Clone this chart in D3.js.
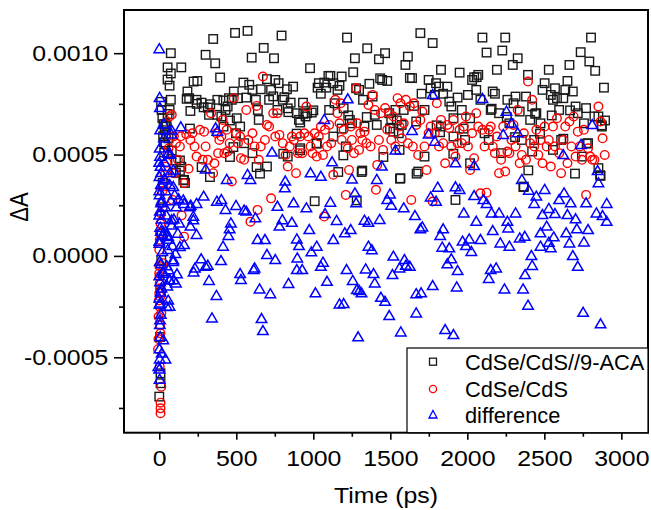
<!DOCTYPE html>
<html><head><meta charset="utf-8">
<script src="https://cdn.jsdelivr.net/npm/d3@7"></script>
<style>body{margin:0;background:#fff}svg{display:block}text{font-family:"Liberation Sans",Arial,sans-serif}</style>
</head><body><svg id="c" width="651" height="510"></svg>
<script>
const xMajorTicks = [0,500,1000,1500,2000,2500,3000];
const xMinorTicks = [250,750,1250,1750,2250,2750];
const yMajorTicks = [-0.0005,0,0.0005,0.001];
const yMinorTicks = [-0.00075,-0.00025,0.00025,0.00075];
const yTickLabels = ["-0.0005","0.0000","0.0005","0.0010"];
const seriesNames = ["CdSe/CdS//9-ACA","CdSe/CdS","difference"];
const xTitle = "Time (ps)";
const yTitle = "ΔA";

// [time (ps), ΔA]
const acaData = [
[0,-6.94e-4],[8,-6.28e-4],[8,-5.79e-4],[5,-4.0e-4],[13,-0.2e-4],[22,3.6e-4],[40,5.5e-4],[48,6.4e-4],[54,8.7e-4],[54,9.3e-4],
[75,9.0e-4],[67,8.4e-4],[75,10.0e-4],[143,9.3e-4],[75,7.7e-4],[67,7.2e-4],[54,7.0e-4],[40,6.5e-4],[81,5.2e-4],[108,4.7e-4],
[108,4.1e-4],[134,4.2e-4],[161,3.75e-4],[167,3.6e-4],[143,4.4e-4],[32,5.1e-4],[16,1.1e-4],[11,-1.8e-4],[22,2.4e-4],
[20,6.8e-4],[28,6.5e-4],[35,6.2e-4],[25,5.9e-4],[45,6.0e-4],[30,5.6e-4],[60,5.8e-4],[15,7.2e-4],[12,7.6e-4],
[183,8.11e-4],[194,7.78e-4],[202,7.15e-4],[223,8.6e-4],[247,8.63e-4],[242,7.7e-4],[274,7.56e-4],[288,7.33e-4],[301,9.92e-4],[315,7.32e-4],
[323,6.96e-4],[350,10.7e-4],[331,7.48e-4],[363,9.5e-4],[377,7.7e-4],[395,8.8e-4],[377,6.96e-4],[403,6.88e-4],[417,6.38e-4],[430,7.2e-4],
[444,7.37e-4],[452,7.78e-4],[471,7.7e-4],[484,8.11e-4],[492,11.0e-4],[498,6.05e-4],[503,6.79e-4],[511,7.78e-4],[525,6.38e-4],[546,8.55e-4],
[551,5.56e-4],[565,7.81e-4],[573,11.1e-4],[584,8.44e-4],[600,9.78e-4],[605,8.19e-4],[627,7.7e-4],[640,7.2e-4],[646,6.71e-4],[659,8.22e-4],
[678,10.26e-4],[699,8.72e-4],[713,7.7e-4],[726,8.19e-4],[740,7.87e-4],[745,9.75e-4],[753,8.68e-4],[767,7.2e-4],[775,8.52e-4],[794,10.87e-4],
[802,7.7e-4],[812,7.83e-4],[829,8.22e-4],[834,7.28e-4],[853,7.56e-4],[869,8.35e-4],[893,7.04e-4],[907,6.71e-4],[915,6.58e-4],[933,7.56e-4],
[950,6.88e-4],[960,7.04e-4],[979,9.26e-4],[990,7.07e-4],[1009,2.7e-4],[1028,8.3e-4],[1036,8.52e-4],[1049,8.0e-4],[1071,8.55e-4],[1084,8.3e-4],
[1098,8.88e-4],[1103,7.2e-4],[1111,8.88e-4],[1130,8.52e-4],[1138,7.53e-4],[1157,8.19e-4],[1170,8.39e-4],[1184,8.85e-4],[1197,7.28e-4],[1219,10.77e-4],
[1237,6.71e-4],[1251,6.54e-4],[1259,9.06e-4],[1270,9.75e-4],[1278,8.27e-4],[1297,8.19e-4],[1323,7.7e-4],[1332,6.38e-4],[1350,10.24e-4],[1364,8.49e-4],
[1385,7.86e-4],[1399,6.96e-4],[1412,6.46e-4],[1426,9.7e-4],[1434,8.76e-4],[1447,8.68e-4],[1466,10.0e-4],[1480,8.63e-4],[1493,7.04e-4],[1506,6.74e-4],
[1520,6.13e-4],[1533,7.2e-4],[1555,6.05e-4],[1566,3.83e-4],[1574,6.46e-4],[1587,7.2e-4],[1598,9.42e-4],[1614,9.83e-4],[1627,8.78e-4],[1641,8.77e-4],
[1654,7.4e-4],[1668,6.63e-4],[1681,4.16e-4],[1695,10.99e-4],[1703,8.0e-4],[1722,7.2e-4],[1749,8.68e-4],[1762,8.27e-4],[1775,10.5e-4],[1789,7.94e-4],
[1797,8.52e-4],[1816,8.35e-4],[1829,9.18e-4],[1843,8.0e-4],[1870,8.35e-4],[1883,7.61e-4],[1896,7.37e-4],[1910,6.79e-4],[1923,2.76e-4],[1937,7.81e-4],
[1950,9.04e-4],[1964,7.2e-4],[1985,5.72e-4],[2004,7.94e-4],[2018,6.79e-4],[2031,8.68e-4],[2044,8.81e-4],[2058,8.19e-4],[2071,8.93e-4],[2085,7.7e-4],
[2098,10.77e-4],[2112,6.05e-4],[2125,10.03e-4],[2139,5.72e-4],[2152,7.2e-4],[2165,8.11e-4],[2179,8.0e-4],[2192,9.18e-4],[2206,7.04e-4],[2227,10.13e-4],
[2246,10.77e-4],[2260,7.7e-4],[2273,6.54e-4],[2295,9.42e-4],[2300,7.53e-4],[2313,7.86e-4],[2327,9.75e-4],[2340,7.12e-4],[2354,5.72e-4],[2367,3.42e-4],
[2381,7.86e-4],[2394,8.93e-4],[2408,6.71e-4],[2421,7.37e-4],[2434,5.72e-4],[2448,7.04e-4],[2475,6.54e-4],[2488,8.19e-4],[2502,8.52e-4],[2529,9.18e-4],
[2542,7.94e-4],[2556,7.7e-4],[2569,8.27e-4],[2582,7.78e-4],[2596,7.2e-4],[2609,5.72e-4],[2623,7.78e-4],[2636,8.19e-4],[2650,8.63e-4],[2663,9.42e-4],
[2685,8.11e-4],[2703,7.37e-4],[2717,7.04e-4],[2736,10.05e-4],[2757,6.54e-4],[2771,7.29e-4],[2784,5.56e-4],[2792,9.59e-4],[2803,10.77e-4],[2825,6.88e-4],
[2830,9.13e-4],[2851,6.88e-4],[2865,3.95e-4],[2887,8.3e-4],[2894,6.68e-4],[2873,6.38e-4],
[605,5.07e-4],[699,4.41e-4],[834,4.9e-4],[915,5.31e-4],[1022,5.56e-4],[1318,4.21e-4],[1722,4.9e-4],[2018,4.57e-4],[2219,5.07e-4],[2421,5.15e-4],
[2556,5.23e-4],[2744,4.9e-4],[2851,4.33e-4],[1910,5.89e-4],[1829,6.38e-4],[1560,5.23e-4],[1130,5.89e-4],[1211,5.4e-4],
[935,7.01e-4],[1000,7.18e-4],[1022,5.54e-4],[1195,4.96e-4],[1162,4.14e-4],[1314,4.14e-4],[1455,4.88e-4],[1563,3.81e-4],[1671,4.06e-4],[1909,5.04e-4],
[1974,6.28e-4],[1801,6.44e-4],[1282,2.74e-4],[1227,6.93e-4],[1347,6.85e-4],[1542,6.68e-4],[1498,6.28e-4],[1823,6.1e-4],[1184,6.28e-4],
[134,4.71e-4],[156,3.73e-4],[329,3.89e-4],[275,4.38e-4],[459,4.88e-4],[481,5.37e-4],[632,4.38e-4],[654,4.06e-4],[805,5.04e-4],[914,5.21e-4],
[892,6.03e-4],[838,7.09e-4],[199,6.28e-4],[243,7.5e-4],[178,7.75e-4],[459,6.68e-4],[416,7.67e-4],
[2158,7.26e-4],[2440,7.01e-4],[2472,6.03e-4],[2623,5.78e-4],[2667,7.18e-4],[2699,4.06e-4],[2775,5.54e-4],[2862,3.98e-4],[2364,3.4e-4],[2873,6.44e-4],
[2548,6.93e-4],[2256,6.85e-4],[2061,8.82e-4],[2310,5.86e-4],[2396,4.22e-4]
];

const cdsData = [
[8,-7.76e-4],[8,-7.52e-4],[8,-7.24e-4],[13,-6.45e-4],[8,-3.82e-4],[13,-2.83e-4],[22,-0.36e-4],[3,-5.46e-4],[0,-1.84e-4],[0,-0.86e-4],
[5,1.12e-4],[11,2.1e-4],[27,3.42e-4],[40,4.41e-4],[54,5.07e-4],[67,6.88e-4],[81,6.96e-4],[108,5.56e-4],[134,5.4e-4],[161,3.59e-4],
[161,0.95e-4],[86,2.76e-4],[121,4.74e-4],[102,4.08e-4],[-5,-3.0e-4],[-3,-2.2e-4],[-8,-4.6e-4],[-5,-4.1e-4],[3,-1.35e-4],[0,0.3e-4],
[2,-1.0e-4],[4,-1.6e-4],[2,-2.5e-4],[5,-3.4e-4],[1,-0.5e-4],[6,-2.0e-4],[3,0.8e-4],[8,1.6e-4],[15,2.6e-4],[20,3.2e-4],
[35,4.0e-4],[48,4.6e-4],[60,5.3e-4],[95,5.9e-4],[140,5.9e-4],[175,6.0e-4],[190,4.3e-4],[145,2.0e-4],
[202,5.72e-4],[215,6.05e-4],[229,5.4e-4],[242,4.9e-4],[264,6.22e-4],[282,4.74e-4],[291,6.13e-4],[301,5.4e-4],[315,4.74e-4],[336,7.04e-4],
[350,4.08e-4],[358,4.57e-4],[371,6.05e-4],[382,5.07e-4],[390,5.72e-4],[403,5.89e-4],[412,6.71e-4],[422,5.07e-4],[438,6.22e-4],[444,5.15e-4],
[457,5.56e-4],[471,3.67e-4],[484,7.78e-4],[498,6.05e-4],[511,5.56e-4],[525,5.89e-4],[530,4.82e-4],[551,4.74e-4],[565,7.2e-4],[578,5.72e-4],
[592,1.69e-4],[605,6.05e-4],[619,5.4e-4],[632,7.4e-4],[638,2.27e-4],[646,4.74e-4],[659,5.4e-4],[673,8.85e-4],[686,5.72e-4],[699,6.46e-4],
[713,6.38e-4],[726,2.84e-4],[740,7.04e-4],[753,5.89e-4],[767,7.04e-4],[780,5.97e-4],[802,5.56e-4],[820,4.98e-4],[834,4.41e-4],[847,5.4e-4],
[861,5.89e-4],[874,5.72e-4],[888,4.08e-4],[901,5.07e-4],[915,5.89e-4],[928,5.07e-4],[942,6.05e-4],[955,7.37e-4],[968,5.89e-4],[982,5.4e-4],
[995,5.07e-4],[1009,6.05e-4],[1022,4.9e-4],[1036,5.89e-4],[1049,6.38e-4],[1063,4.98e-4],[1071,1.94e-4],[1076,6.22e-4],[1089,5.4e-4],[1103,6.46e-4],
[1116,5.56e-4],[1130,4.0e-4],[1143,7.7e-4],[1157,7.04e-4],[1170,6.54e-4],[1178,7.53e-4],[1184,5.72e-4],[1197,6.22e-4],[1211,3.01e-4],[1224,5.31e-4],
[1232,4.24e-4],[1243,6.38e-4],[1251,5.72e-4],[1264,5.07e-4],[1278,8.27e-4],[1286,6.54e-4],[1297,5.23e-4],[1305,6.05e-4],[1318,5.72e-4],[1332,6.13e-4],
[1345,5.56e-4],[1358,7.45e-4],[1372,5.4e-4],[1385,7.94e-4],[1399,7.2e-4],[1407,3.26e-4],[1415,4.49e-4],[1426,5.72e-4],[1439,7.04e-4],[1453,5.23e-4],
[1466,7.29e-4],[1480,6.22e-4],[1493,7.04e-4],[1506,5.72e-4],[1520,6.88e-4],[1533,5.4e-4],[1547,7.78e-4],[1560,6.38e-4],[1566,7.53e-4],[1574,5.8e-4],
[1587,6.54e-4],[1601,7.7e-4],[1614,5.56e-4],[1627,7.37e-4],[1636,2.76e-4],[1646,5.4e-4],[1654,7.53e-4],[1668,6.46e-4],[1681,4.98e-4],[1695,6.71e-4],
[1708,7.12e-4],[1722,5.4e-4],[1735,4.24e-4],[1749,6.05e-4],[1762,6.38e-4],[1775,2.68e-4],[1789,6.05e-4],[1802,7.53e-4],[1816,5.4e-4],[1829,6.71e-4],
[1843,5.56e-4],[1856,4.57e-4],[1870,6.46e-4],[1883,6.3e-4],[1896,5.4e-4],[1910,6.71e-4],[1923,4.9e-4],[1937,5.56e-4],[1950,6.22e-4],[1964,5.56e-4],
[1977,6.38e-4],[1991,6.88e-4],[2004,5.4e-4],[2018,4.24e-4],[2031,6.05e-4],[2044,4.82e-4],[2058,7.04e-4],[2071,6.38e-4],[2085,3.09e-4],[2098,6.22e-4],
[2112,5.4e-4],[2125,3.12e-4],[2139,6.22e-4],[2152,6.38e-4],[2165,5.4e-4],[2179,5.07e-4],[2192,5.89e-4],[2206,4.08e-4],[2219,4.74e-4],[2233,6.38e-4],
[2246,4.16e-4],[2260,5.15e-4],[2273,5.07e-4],[2287,5.72e-4],[2300,6.46e-4],[2313,5.4e-4],[2327,7.2e-4],[2340,4.57e-4],[2354,4.98e-4],[2367,6.05e-4],
[2381,4.74e-4],[2394,8.6e-4],[2408,5.56e-4],[2421,7.7e-4],[2434,5.4e-4],[2448,6.22e-4],[2461,4.98e-4],[2475,5.72e-4],[2488,4.57e-4],[2502,6.38e-4],
[2515,5.4e-4],[2529,5.72e-4],[2542,4.41e-4],[2556,6.38e-4],[2569,5.4e-4],[2582,6.79e-4],[2596,5.07e-4],[2609,4.08e-4],[2623,5.72e-4],[2636,6.38e-4],
[2650,4.57e-4],[2663,6.63e-4],[2676,5.4e-4],[2690,6.88e-4],[2703,4.9e-4],[2717,6.13e-4],[2730,5.4e-4],[2744,4.74e-4],[2757,6.22e-4],[2771,3.01e-4],
[2784,5.31e-4],[2798,4.9e-4],[2811,4.74e-4],[2825,4.74e-4],[2851,7.37e-4],[2865,6.63e-4],[2878,5.8e-4],[2892,4.98e-4]
];

const diffData = [
[0,10.2e-4],[2,7.8e-4],[4,7.3e-4],[6,6.2e-4],[3,5.3e-4],[5,4.9e-4],[8,4.4e-4],[1,3.9e-4],[10,3.5e-4],[2,3.0e-4],
[12,2.6e-4],[4,2.2e-4],[15,1.8e-4],[6,1.4e-4],[18,1.0e-4],[1,0.6e-4],[20,0.2e-4],[3,-0.3e-4],[25,-0.8e-4],[5,-1.3e-4],
[8,-1.8e-4],[2,-2.4e-4],[10,-2.9e-4],[4,-3.4e-4],[6,-4.0e-4],[1,-4.6e-4],[3,-5.1e-4],[0,-5.6e-4],[2,-6.1e-4],[30,5.8e-4],
[35,4.6e-4],[40,3.2e-4],[45,2.0e-4],[50,1.0e-4],[55,0.3e-4],[60,-0.7e-4],[65,-1.2e-4],[70,4.1e-4],[75,2.7e-4],[80,1.5e-4],
[85,0.5e-4],[90,-0.3e-4],[28,6.5e-4],[33,3.8e-4],[38,2.4e-4],[42,1.2e-4],[48,-0.5e-4],[52,-1.5e-4],[58,-2.2e-4],[62,0.8e-4],
[68,3.5e-4],[72,5.0e-4],[78,6.0e-4],[95,1.8e-4],[100,3.0e-4],[105,0.1e-4],[110,2.4e-4],[115,-0.9e-4],[120,1.1e-4],[125,2.8e-4],
[130,1.6e-4],[67,-2.5e-4],[40,-5.1e-4],[94,-1.2e-4],[108,-1.35e-4],
[80,6.19e-4],[58,5.04e-4],[91,4.22e-4],[37,3.73e-4],[91,3.4e-4],[156,2.74e-4],[199,2.41e-4],[221,1.76e-4],[80,1.76e-4],[58,0.94e-4],
[134,0.44e-4],[91,-0.21e-4],[26,-0.87e-4],[69,-1.2e-4],[5,-2.34e-4],[48,-2.51e-4],[5,-3.17e-4],[26,-4.15e-4],[-6,-5.47e-4],[16,-4.81e-4],
[232,-0.62e-4],[0,4.6e-4],[12,4.1e-4],[0,3.2e-4],[14,2.7e-4],[0,2.0e-4],[10,1.2e-4],[0,0.7e-4],[12,-0.4e-4],[0,-1.0e-4],[14,-1.6e-4],[0,-2.1e-4],
[140,6.35e-4],[161,2.57e-4],[204,2.48e-4],[242,2.57e-4],[288,2.93e-4],[202,1.45e-4],[221,1.94e-4],[161,0.54e-4],[242,1.04e-4],[223,-0.81e-4],
[272,-0.16e-4],[301,-0.53e-4],[315,-0.48e-4],[323,-1.23e-4],[342,-3.08e-4],[371,-1.97e-4],[401,-0.25e-4],[414,0.46e-4],[430,2.27e-4],[449,0.99e-4],
[457,1.32e-4],[465,1.61e-4],[438,3.75e-4],[374,2.68e-4],[403,2.76e-4],[377,6.13e-4],[366,6.3e-4],[301,4.27e-4],[525,-0.89e-4],[530,-1.18e-4],
[498,2.47e-4],[551,2.24e-4],[565,2.19e-4],[592,3.75e-4],[573,4.0e-4],[613,-0.69e-4],[619,-0.61e-4],[624,1.86e-4],[638,0.79e-4],[686,0.79e-4],
[651,-1.65e-4],[664,-3.11e-4],[673,-3.70e-4],[699,0.05e-4],[721,-1.88e-4],[732,5.1e-4],[753,-0.2e-4],[767,2.43e-4],[818,3.67e-4],[780,1.45e-4],
[799,1.77e-4],[815,3.34e-4],[839,-1.38e-4],[861,1.64e-4],[872,2.6e-4],[893,0.82e-4],[896,-0.12e-4],[907,0.49e-4],[893,-0.69e-4],[928,-0.69e-4],
[955,2.35e-4],[974,1.28e-4],[982,4.08e-4],[987,0.18e-4],[1014,-1.84e-4],[1022,0.46e-4],[1049,-0.53e-4],[1063,-0.33e-4],[1076,2.07e-4],[1089,-1.27e-4],
[1071,6.71e-4],[1049,3.91e-4],[1111,2.63e-4],[1122,4.62e-4],[1130,0.79e-4],[1151,1.73e-4],[1170,-2.39e-4],[1197,-2.37e-4],[1205,1.12e-4],[1216,-0.69e-4],
[1224,7.73e-4],[1243,1.28e-4],[1256,-1.23e-4],[1251,3.78e-4],[1270,3.09e-4],[1278,2.6e-4],[1283,-1.68e-4],[1291,-4.01e-4],[1299,-1.73e-4],[1313,-1.84e-4],
[1332,1.74e-4],[1340,-0.66e-4],[1358,1.64e-4],[1358,0.46e-4],[1380,0.29e-4],[1391,-0.89e-4],[1399,-1.35e-4],[1412,3.75e-4],[1431,1.78e-4],[1439,-2.06e-4],
[1445,4.41e-4],[1466,-2.26e-4],[1480,2.76e-4],[1498,3.04e-4],[1506,2.48e-4],[1514,-0.94e-4],[1493,-2.96e-4],[1520,-0.03e-4],[1533,5.2e-4],[1560,-0.61e-4],
[1568,-3.77e-4],[1587,2.35e-4],[1592,-0.2e-4],[1601,-0.48e-4],[1627,-0.53e-4],[1641,6.17e-4],[1660,1.97e-4],[1668,-1.88e-4],[1668,-2.83e-4],[1695,1.32e-4],
[1708,1.41e-4],[1700,-1.84e-4],[1749,6.0e-4],[1775,7.94e-4],[1762,2.89e-4],[1775,-1.48e-4],[1789,5.64e-4],[1797,2.68e-4],[1808,3.37e-4],[1824,0.99e-4],
[1837,0.41e-4],[1843,1.32e-4],[1856,-3.65e-4],[1870,-0.41e-4],[1883,0.38e-4],[1896,-0.16e-4],[1910,-3.9e-4],[1923,4.57e-4],[1923,3.39e-4],[1937,-0.74e-4],
[1931,-1.55e-4],[1950,3.26e-4],[1977,2.1e-4],[1969,0.71e-4],[1991,0.49e-4],[2012,0.82e-4],[2026,0.2e-4],[2044,4.44e-4],[2044,2.96e-4],[2058,1.69e-4],
[2085,0.79e-4],[2098,7.75e-4],[2104,2.76e-4],[2125,2.57e-4],[2139,-1.13e-4],[2152,-0.69e-4],[2157,2.1e-4],[2165,1.23e-4],[2187,-0.61e-4],[2206,2.1e-4],
[2214,0.62e-4],[2233,5.97e-4],[2241,-1.65e-4],[2254,7.12e-4],[2260,1.69e-4],[2265,1.36e-4],[2273,0.46e-4],[2287,6.54e-4],[2313,2.1e-4],[2327,6.05e-4],
[2340,0.87e-4],[2354,3.75e-4],[2362,-1.65e-4],[2373,0.95e-4],[2375,-0.94e-4],[2394,-2.45e-4],[2399,3.22e-4],[2416,0.0e-4],[2421,-0.49e-4],[2434,2.57e-4],
[2448,2.93e-4],[2475,1.12e-4],[2475,0.46e-4],[2488,2.02e-4],[2502,3.26e-4],[2515,1.45e-4],[2529,0.66e-4],[2529,2.32e-4],[2542,0.38e-4],[2561,0.92e-4],
[2569,2.07e-4],[2596,2.76e-4],[2623,4.98e-4],[2628,3.09e-4],[2642,1.12e-4],[2650,2.02e-4],[2663,0.62e-4],[2671,2.6e-4],[2685,0.0e-4],[2703,1.81e-4],
[2711,1.32e-4],[2717,-0.53e-4],[2738,5.48e-4],[2752,-2.8e-4],[2757,0.67e-4],[2771,2.6e-4],[2784,1.28e-4],[2811,6.46e-4],[2838,2.1e-4],[2846,4.19e-4],
[2851,3.59e-4],[2865,-3.37e-4],[2878,1.97e-4],[2905,2.57e-4],[2905,1.69e-4]
];

const svg = d3.select("#c");
const L = 124, R = 648, T = 10, B = 432.7;
const x = d3.scaleLinear().domain([-229, 3173]).range([L, R]);
const y = d3.scaleLinear().domain([-0.000872, 0.001213]).range([B, T]);

const fontSize = 22, stretch = 1.13, FONT = '"Liberation Sans",Arial,sans-serif';
const gx = svg.append("g").attr("transform", `translate(0,${B})`)
  .call(d3.axisBottom(x).tickValues(xMajorTicks).tickSize(7).tickPadding(10.5).tickFormat(d3.format("d")));
const gxm = svg.append("g").attr("transform", `translate(0,${B})`)
  .call(d3.axisBottom(x).tickValues(xMinorTicks).tickSize(4).tickFormat(""));
const gy = svg.append("g").attr("transform", `translate(${L},0)`)
  .call(d3.axisLeft(y).tickValues(yMajorTicks).tickSize(10).tickPadding(4.5).tickFormat((d,i) => yTickLabels[i]));
const gym = svg.append("g").attr("transform", `translate(${L},0)`)
  .call(d3.axisLeft(y).tickValues(yMinorTicks).tickSize(5).tickFormat(""));
[gx,gxm,gy,gym].forEach(g => {
  g.select(".domain").remove();
  g.selectAll(".tick line").attr("stroke","#000").attr("stroke-width",1.6);
  g.selectAll("text").attr("font-size",fontSize).attr("fill","#000").attr("font-family",FONT)
    .attr("transform",`scale(${stretch},1)`);
});
gy.selectAll("text").attr("x", -15.7/stretch);

// markers
const sq = 8.5, cr = 4.3;
const triPath = (w,h) => `M0,${-h*0.6}L${w/2},${h*0.4}L${-w/2},${h*0.4}Z`;

svg.append("g").selectAll("rect").data(acaData).join("rect")
  .attr("x", d => x(d[0]) - sq/2).attr("y", d => y(d[1]) - sq/2)
  .attr("width", sq).attr("height", sq)
  .attr("fill","none").attr("stroke","#1a1a1a").attr("stroke-width",1.4);

svg.append("g").selectAll("circle").data(cdsData).join("circle")
  .attr("cx", d => x(d[0])).attr("cy", d => y(d[1])).attr("r", cr)
  .attr("fill","none").attr("stroke","#ff0000").attr("stroke-width",1.4);

svg.append("g").selectAll("path").data(diffData).join("path")
  .attr("transform", d => `translate(${x(d[0])},${y(d[1])})`)
  .attr("d", triPath(10.5,9))
  .attr("fill","none").attr("stroke","#0000ff").attr("stroke-width",1.5);

// frame
svg.append("rect").attr("x",L).attr("y",T).attr("width",R-L).attr("height",B-T)
  .attr("fill","none").attr("stroke","#000").attr("stroke-width",2);

// titles
svg.append("text").attr("transform",`translate(${(L+R)/2},503) scale(${stretch},1)`).attr("text-anchor","middle")
  .attr("font-size",fontSize).attr("fill","#000").text(xTitle);
svg.append("text").attr("transform",`translate(28,207) scale(${stretch},1) rotate(-90)`).attr("text-anchor","middle")
  .attr("font-size",fontSize).attr("fill","#000").text(yTitle);

// legend
const lg = svg.append("g");
lg.append("rect").attr("x",407).attr("y",348).attr("width",R-407).attr("height",B-348)
  .attr("fill","#fff").attr("stroke","#000").attr("stroke-width",1.2);
const rows = [361.7, 389, 415];
const mx = 433;
lg.append("rect").attr("x",mx-3.5).attr("y",rows[0]-3.5).attr("width",7).attr("height",7)
  .attr("fill","none").attr("stroke","#1a1a1a").attr("stroke-width",1.3);
lg.append("circle").attr("cx",mx).attr("cy",rows[1]).attr("r",3.6)
  .attr("fill","none").attr("stroke","#ff0000").attr("stroke-width",1.3);
lg.append("path").attr("transform",`translate(${mx},${rows[2]})`).attr("d",triPath(8,7.5))
  .attr("fill","none").attr("stroke","#0000ff").attr("stroke-width",1.3);
seriesNames.forEach((n,i) => {
  lg.append("text").attr("x",465).attr("y",rows[i]+8).attr("font-size",21.8).attr("fill","#000").text(n);
});
</script></body></html>
